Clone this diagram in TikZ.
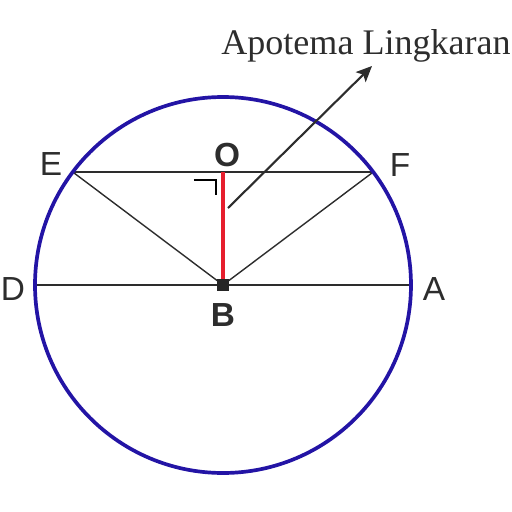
\documentclass[tikz,border=0pt]{standalone}
\usepackage{fontspec}
\setmainfont{Liberation Serif}
\setsansfont{Liberation Sans}
\usetikzlibrary{arrows.meta}
\definecolor{circblue}{RGB}{35,20,165}
\definecolor{apored}{RGB}{230,30,45}
\definecolor{chordgray}{RGB}{45,45,45}
\tikzset{
    ptlabel/.style={font=\sffamily\fontsize{19}{21}\selectfont, text=chordgray, inner sep=0pt},
    boldlabel/.style={font=\sffamily\bfseries\fontsize{19}{21}\selectfont, text=chordgray, inner sep=0pt},
    centre/.style={rectangle, fill=black!85, minimum size=0.25cm, inner sep=0pt, outer sep=0pt},
    chord/.style={draw=chordgray, line width=0.8pt}
}
\begin{document}
\begin{tikzpicture}
        \useasboundingbox (-4.46,-4.54) rectangle (5.78,5.7);

        \coordinate (B) at (0,0);
        \coordinate (O) at (0,2.26);
        \coordinate (E) at (-3.005,2.26);
        \coordinate (F) at (3.005,2.26);
        \coordinate (D) at (-3.76,0);
        \coordinate (A) at (3.76,0);

        \draw[chord] (E) -- (F);
        \draw[chord] (D) -- (A);
        \draw[chord] (E) -- (B);
        \draw[chord] (F) -- (B);
        \draw[apored, line width=2.2pt] (B) -- (O);
        \draw[circblue, line width=2.1pt] (B) circle (3.76);

        % right angle mark
        \draw[black, line width=1.5pt] (-0.58,2.1) -- (-0.14,2.1) -- (-0.14,1.8);

        \node[centre] (b) at (B) {};

        \node[ptlabel] (lE) at (-3.44,2.42) {E};
        \node[ptlabel] (lF) at (3.54,2.4) {F};
        \node[ptlabel] (lD) at (-4.2,-0.08) {D};
        \node[ptlabel] (lA) at (4.22,-0.08) {A};
        \node[boldlabel] (lO) at (0.08,2.6) {O};
        \node[boldlabel] (lB) at (0,-0.6) {B};

        \coordinate (arrowstart) at (0.1,1.54);
        \coordinate (arrowend) at (2.98,4.38);
        \draw[chordgray, line width=1.2pt, -{Stealth[length=9pt, width=8pt, inset=2pt]}] (arrowstart) -- (arrowend);
        \node[font=\fontsize{20.5}{24}\selectfont, text=chordgray, inner sep=0pt] (apotema) at (2.86,4.78) {Apotema Lingkaran};
    \end{tikzpicture}
\end{document}
